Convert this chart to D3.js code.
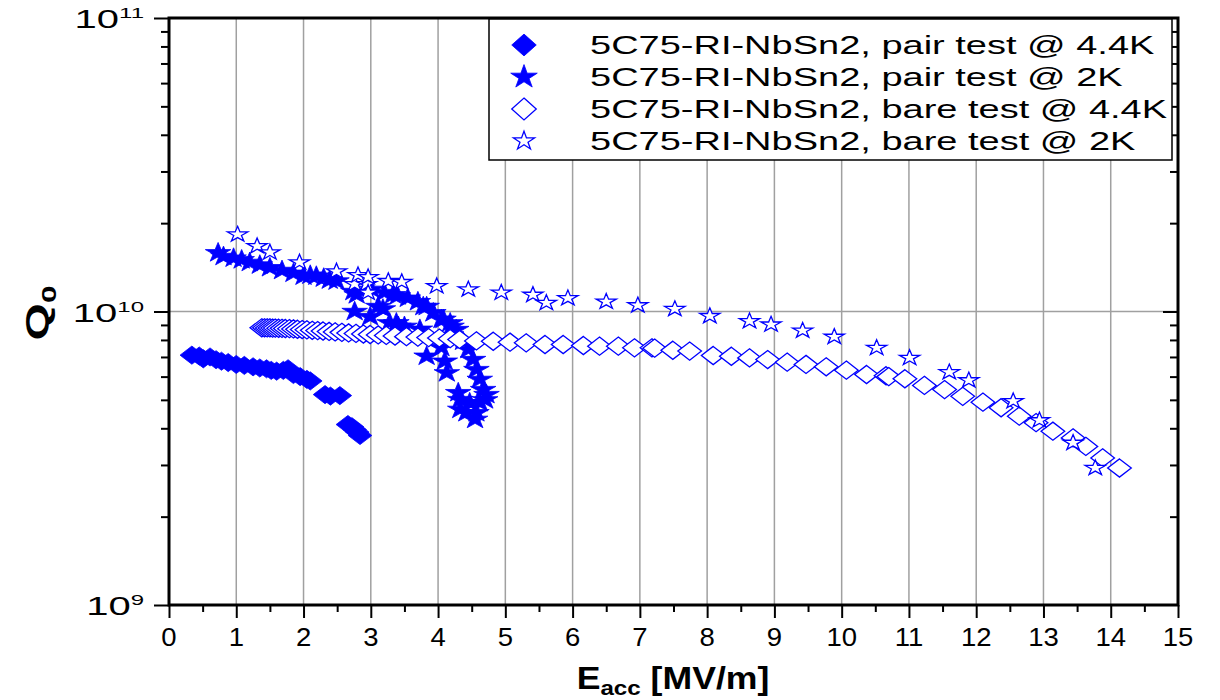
<!DOCTYPE html>
<html>
<head>
<meta charset="utf-8">
<script src="https://cdn.jsdelivr.net/npm/d3@7"></script>
<style>
  body { margin: 0; background: #fff; }
  svg { display: block; font-family: "Liberation Sans", Arial, sans-serif; }
</style>
</head>
<body>
<div id="chart"></div>
<script>
// series values (E in MV/m, Q0)
var pairHotE = [0.34, 0.45, 0.51, 0.61, 0.70, 0.78, 0.88, 1.00, 1.12, 1.25, 1.35, 1.45, 1.52, 1.60,
  1.70, 1.77, 1.85, 1.95, 2.05, 2.10, 2.32, 2.40, 2.54, 2.66, 2.72, 2.76, 2.80, 2.84];
var pairHotQ = [7.10e9, 7.05e9, 6.90e9, 7.00e9, 6.85e9, 6.77e9, 6.70e9, 6.60e9, 6.55e9, 6.48e9, 6.42e9,
  6.38e9, 6.30e9, 6.26e9, 6.30e9, 6.38e9, 6.10e9, 6.00e9, 5.87e9, 5.80e9, 5.21e9, 5.15e9, 5.17e9,
  4.12e9, 4.05e9, 3.96e9, 3.88e9, 3.78e9];

var pairColdE = [0.73, 0.81, 0.96, 1.08, 1.20, 1.35, 1.50, 1.68, 1.85, 2.00, 2.10, 2.19, 2.30, 2.39,
  2.49, 2.74, 2.79, 3.01, 3.20, 3.33, 3.40, 3.55, 3.70, 3.78, 3.83, 3.93, 4.05, 4.08, 4.18, 4.20,
  4.27, 4.37, 4.45, 4.52, 4.57, 4.62, 4.67, 4.72, 4.70, 4.62, 4.57, 4.55,
  2.76, 2.99, 3.11, 3.18, 3.28, 3.38, 3.41, 3.50, 3.73, 3.83, 4.05, 4.10, 4.13, 4.30, 4.33, 4.33,
  4.42, 4.47];
var pairColdQ = [1.585e10, 1.54e10, 1.52e10, 1.50e10, 1.47e10, 1.44e10, 1.41e10, 1.38e10, 1.35e10,
  1.32e10, 1.33e10, 1.32e10, 1.30e10, 1.28e10, 1.27e10, 1.17e10, 1.14e10, 1.19e10, 1.16e10, 1.14e10,
  1.13e10, 1.11e10, 1.08e10, 1.04e10, 1.04e10, 9.9e9, 9.4e9, 9.4e9, 9.15e9, 8.9e9, 8.68e9, 7.92e9,
  7.42e9, 6.86e9, 6.34e9, 5.87e9, 5.42e9, 5.21e9, 5.0e9, 4.89e9, 4.52e9, 4.29e9,
  1.00e10, 9.6e9, 1.04e10, 1.02e10, 9.15e9, 9.15e9, 8.9e9, 8.9e9, 8.7e9, 7.04e9, 7.54e9, 6.77e9,
  6.18e9, 5.29e9, 5.01e9, 4.64e9, 4.52e9, 4.89e9];

var bareHotE = [1.38, 1.42, 1.46, 1.50, 1.54, 1.58, 1.63, 1.68, 1.73, 1.79, 1.85, 1.91, 1.98, 2.05,
  2.13, 2.21, 2.29, 2.38, 2.47, 2.57, 2.67, 2.78, 2.89, 2.99, 3.11, 3.23, 3.36, 3.53, 3.70, 3.86,
  4.02, 4.18, 4.32, 4.57, 4.82, 5.07, 5.31, 5.59, 5.86, 6.16, 6.40, 6.68, 6.92, 7.18, 7.22, 7.49,
  7.74, 8.09, 8.36, 8.63, 8.90, 9.19, 9.47, 9.77, 10.07, 10.37, 10.66, 10.70, 10.94, 11.23, 11.53,
  11.80, 12.10, 12.37, 12.64, 12.89, 13.14, 13.44, 13.63, 13.88, 14.13];
var bareHotQ = [8.80e9, 8.80e9, 8.79e9, 8.79e9, 8.78e9, 8.78e9, 8.77e9, 8.76e9, 8.75e9, 8.74e9, 8.72e9,
  8.70e9, 8.68e9, 8.66e9, 8.63e9, 8.61e9, 8.58e9, 8.55e9, 8.52e9, 8.49e9, 8.45e9, 8.42e9, 8.38e9,
  8.35e9, 8.32e9, 8.29e9, 8.25e9, 8.21e9, 8.18e9, 8.15e9, 8.12e9, 8.08e9, 8.03e9, 7.94e9, 7.92e9,
  7.86e9, 7.82e9, 7.72e9, 7.72e9, 7.66e9, 7.62e9, 7.62e9, 7.52e9, 7.52e9, 7.50e9, 7.38e9, 7.33e9,
  7.08e9, 7.04e9, 6.95e9, 6.86e9, 6.72e9, 6.60e9, 6.48e9, 6.31e9, 6.10e9, 6.04e9, 6.00e9, 5.90e9,
  5.60e9, 5.42e9, 5.14e9, 4.91e9, 4.70e9, 4.40e9, 4.18e9, 3.91e9, 3.71e9, 3.47e9, 3.17e9, 2.93e9];

var bareColdE = [1.02, 1.31, 1.50, 1.94, 2.49, 2.76, 2.81, 2.94, 2.96, 2.96, 3.26, 3.46, 3.98, 4.45,
  4.94, 5.41, 5.61, 5.93, 6.50, 6.97, 7.52, 8.04, 8.63, 8.95, 9.42, 9.89, 10.52, 11.01, 11.60,
  11.89, 12.55, 12.94, 13.44, 13.77];
var bareColdQ = [1.83e10, 1.67e10, 1.59e10, 1.47e10, 1.37e10, 1.24e10, 1.33e10, 1.24e10, 1.31e10,
  1.16e10, 1.27e10, 1.26e10, 1.22e10, 1.19e10, 1.16e10, 1.14e10, 1.07e10, 1.11e10, 1.08e10, 1.05e10,
  1.02e10, 9.65e9, 9.27e9, 9.03e9, 8.61e9, 8.2e9, 7.52e9, 6.95e9, 6.21e9, 5.83e9, 4.95e9, 4.26e9,
  3.57e9, 2.93e9];

var legendLabels = ['5C75-RI-NbSn2, pair test @ 4.4K', '5C75-RI-NbSn2, pair test @ 2K',
  '5C75-RI-NbSn2, bare test @ 4.4K', '5C75-RI-NbSn2, bare test @ 2K'];
var xTicks = d3.range(0, 16);
var yExponents = [9, 10, 11];

var width = 1220;
var height = 700;
var blue = '#0000ff';
var plotLeft = 169, plotRight = 1178, plotTop = 18, plotBottom = 605;

var svg = d3.select('#chart')
  .append('svg')
  .attr('width', width)
  .attr('height', height);

var x = d3.scaleLinear().domain([0, 15]).range([plotLeft, plotRight]);
var y = d3.scaleLog().domain([1e9, 1e11]).range([plotBottom, plotTop]);

// text in the picture is drawn wide, so stretch it horizontally
function wideText (parent, px, py, anchor, sx, rotate) {
  return parent.append('g')
    .attr('transform', 'translate(' + px + ',' + py + ')' + (rotate ? ' rotate(' + rotate + ')' : '') + ' scale(' + sx + ',1)')
    .append('text')
    .attr('text-anchor', anchor);
}

// grid
svg.append('g').selectAll('line')
  .data(xTicks.slice(1, 15))
  .enter()
  .append('line')
  .attr('x1', function (d) { return x(d); })
  .attr('x2', function (d) { return x(d); })
  .attr('y1', plotTop)
  .attr('y2', plotBottom)
  .attr('stroke', '#a0a0a0')
  .attr('stroke-width', 1.5);

svg.append('line')
  .attr('x1', plotLeft).attr('x2', plotRight)
  .attr('y1', y(1e10)).attr('y2', y(1e10))
  .attr('stroke', '#a0a0a0')
  .attr('stroke-width', 1.5);

// axes
var xAxis = d3.axisBottom(x)
  .tickValues(d3.range(0, 15.5, 0.5))
  .tickSize(0)
  .tickFormat('');
var xg = svg.append('g')
  .attr('transform', 'translate(0,' + plotBottom + ')')
  .call(xAxis);
xg.selectAll('.tick line')
  .attr('stroke', '#000')
  .attr('stroke-width', 2)
  .attr('y2', function (d) { return d % 1 === 0 ? 13 : 7; });
xg.select('.domain').remove();

var yMajor = yExponents.map(function (e) { return Math.pow(10, e); });
var yMinor = [];
[1e9, 1e10].forEach(function (base) {
  for (var k = 2; k < 10; k++) yMinor.push(k * base);
});
var yAxisL = d3.axisLeft(y).tickValues(yMinor.concat(yMajor)).tickSize(0).tickFormat('');
var yl = svg.append('g').attr('transform', 'translate(' + plotLeft + ',0)').call(yAxisL);
yl.selectAll('.tick line')
  .attr('stroke', '#000')
  .attr('stroke-width', 2)
  .attr('x2', function (d) { return yMajor.indexOf(d) >= 0 ? -15 : -8; });
yl.select('.domain').remove();

var yAxisR = d3.axisRight(y).tickValues(yMinor.concat([1e10])).tickSize(0).tickFormat('');
var yr = svg.append('g').attr('transform', 'translate(' + plotRight + ',0)').call(yAxisR);
yr.selectAll('.tick line')
  .attr('stroke', '#000')
  .attr('stroke-width', 2)
  .attr('x2', function (d) { return d === 1e10 ? -15 : -8; });
yr.select('.domain').remove();

// frame
svg.append('rect')
  .attr('x', plotLeft).attr('y', plotTop)
  .attr('width', plotRight - plotLeft).attr('height', plotBottom - plotTop)
  .attr('fill', 'none')
  .attr('stroke', '#000')
  .attr('stroke-width', 3);

// tick labels
xTicks.forEach(function (t) {
  wideText(svg, x(t), 646, 'middle', 1.1)
    .attr('font-size', 25)
    .text(t);
});

yExponents.forEach(function (e) {
  var t = wideText(svg, 144, y(Math.pow(10, e)) + 10, 'end', 1.6)
    .attr('font-size', 25);
  t.append('tspan').text('10');
  t.append('tspan').attr('font-size', 15).attr('dy', -10).text(e);
});

// axis titles
var xt = wideText(svg, 673, 689, 'middle', 1.15)
  .attr('font-size', 31)
  .attr('font-weight', 'bold');
xt.append('tspan').text('E');
xt.append('tspan').attr('font-size', 21).attr('dy', 6).text('acc');
xt.append('tspan').attr('dy', -6).text(' [MV/m]');

var yt = wideText(svg, 48, 313, 'middle', 1.5, -90)
  .attr('font-size', 32)
  .attr('font-weight', 'bold');
yt.append('tspan').text('Q');
yt.append('tspan').attr('font-size', 21).attr('dy', 8).text('0');

// markers
var diamond = d3.symbol().type(d3.symbolSquare).size(165)();
var bigStar = d3.symbol().type(d3.symbolStar).size(120)();
var smallStar = d3.symbol().type(d3.symbolStar).size(75)();

function drawSeries (es, qs, path, filled) {
  var pts = es.map(function (e, i) { return [e, qs[i]]; });
  var rot = path === diamond ? ' rotate(45)' : '';
  svg.append('g').selectAll('path')
    .data(pts)
    .enter()
    .append('path')
    .attr('d', path)
    .attr('transform', function (d) {
      return 'translate(' + x(d[0]) + ',' + y(d[1]) + ') scale(1.3,1)' + rot;
    })
    .attr('fill', filled ? blue : '#fff')
    .attr('stroke', blue)
    .attr('stroke-width', filled ? 0.8 : 1.3)
    .attr('vector-effect', 'non-scaling-stroke');
}

drawSeries(pairHotE, pairHotQ, diamond, true);
drawSeries(pairColdE, pairColdQ, bigStar, true);
drawSeries(bareHotE, bareHotQ, diamond, false);
drawSeries(bareColdE, bareColdQ, smallStar, false);

// legend
var legend = svg.append('g');
legend.append('rect')
  .attr('x', 489).attr('y', 19)
  .attr('width', 683).attr('height', 141)
  .attr('fill', '#fff')
  .attr('stroke', '#000')
  .attr('stroke-width', 1.5);

var legendShapes = [[diamond, true], [bigStar, true], [diamond, false], [smallStar, false]];
legendLabels.forEach(function (label, i) {
  var cy = 45 + i * 32;
  legend.append('path')
    .attr('d', legendShapes[i][0])
    .attr('transform', 'translate(524,' + cy + ') scale(1.35,1.2)' + (legendShapes[i][0] === diamond ? ' rotate(45)' : ''))
    .attr('fill', legendShapes[i][1] ? blue : '#fff')
    .attr('stroke', blue)
    .attr('stroke-width', legendShapes[i][1] ? 0.8 : 1.3)
    .attr('vector-effect', 'non-scaling-stroke');
  wideText(legend, 590, cy + 9, 'start', 1.52)
    .attr('font-size', 25)
    .text(label);
});
</script>
</body>
</html>
